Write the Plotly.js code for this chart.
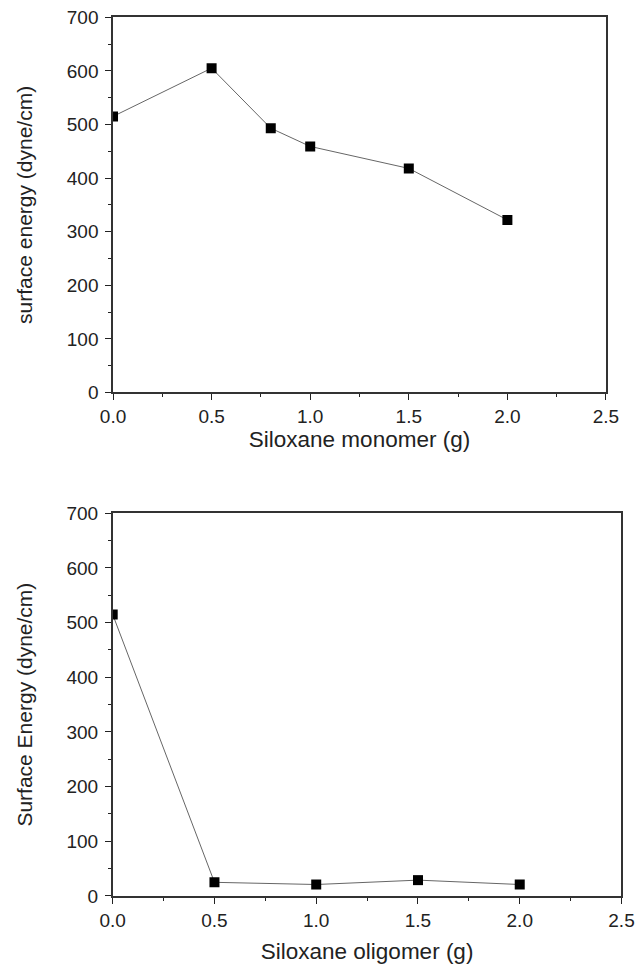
<!DOCTYPE html>
<html>
<head>
<meta charset="utf-8">
<script src="https://cdn.plot.ly/plotly-3.0.1.min.js"></script>
<style>html,body{margin:0;padding:0;background:#fff}#chart{width:636px;height:970px}</style>
</head>
<body>
<div id="chart"></div>
<script>
// Top panel: siloxane monomer
const monomerX = [0.0, 0.5, 0.8, 1.0, 1.5, 2.0];
const monomerY = [515, 605, 493, 459, 418, 322];
// Bottom panel: siloxane oligomer
const oligomerX = [0.0, 0.5, 1.0, 1.5, 2.0];
const oligomerY = [515, 25, 21, 29, 21];

const xTickVals = [0, 0.5, 1.0, 1.5, 2.0, 2.5];
const xTickText = ['0.0', '0.5', '1.0', '1.5', '2.0', '2.5'];
const yTickVals = [0, 100, 200, 300, 400, 500, 600, 700];

const topXTitle = 'Siloxane monomer (g)';
const topYTitle = 'surface energy (dyne/cm)';
const botXTitle = 'Siloxane oligomer (g)';
const botYTitle = 'Surface Energy (dyne/cm)';

const FONT = 'Liberation Sans, Arial, Helvetica, sans-serif';
const tickFont = {family: FONT, size: 19, color: '#222'};
const xTitleFont = {family: FONT, size: 22.5, color: '#222'};
const yTitleFont = {family: FONT, size: 21, color: '#222'};

function trace(x, y, xa, ya) {
  return {
    x: x, y: y, xaxis: xa, yaxis: ya,
    type: 'scatter', mode: 'lines+markers',
    line: {color: '#666', width: 1},
    marker: {symbol: 'square', size: 10, color: '#000'},
    cliponaxis: true,
    hoverinfo: 'x+y'
  };
}

function xaxis(domain, anchor, title, standoff) {
  return {
    domain: domain, anchor: anchor,
    range: [0, 2.5],
    tickmode: 'array', tickvals: xTickVals, ticktext: xTickText,
    ticks: 'outside', ticklen: 6, tickwidth: 1.3, tickcolor: '#222',
    minor: {dtick: 0.25, ticks: 'outside', ticklen: 3, tickwidth: 1.3, tickcolor: '#222', showgrid: false},
    showline: true, linecolor: '#333', linewidth: 1.5, mirror: true,
    showgrid: false, zeroline: false,
    tickfont: tickFont,
    title: {text: title, font: xTitleFont, standoff: standoff},
    fixedrange: true
  };
}

function yaxis(domain, anchor, title) {
  return {
    domain: domain, anchor: anchor,
    range: [0, 700],
    tickmode: 'array', tickvals: yTickVals,
    ticks: 'outside', ticklen: 6, tickwidth: 1.3, tickcolor: '#222',
    minor: {dtick: 50, ticks: 'outside', ticklen: 3, tickwidth: 1.3, tickcolor: '#222', showgrid: false},
    showline: true, linecolor: '#333', linewidth: 1.5, mirror: true,
    showgrid: false, zeroline: false,
    tickfont: tickFont,
    ticklabelstandoff: 3,
    title: {text: title, font: yTitleFont, standoff: 28},
    fixedrange: true
  };
}

const data = [
  trace(monomerX, monomerY, 'x', 'y'),
  trace(oligomerX, oligomerY, 'x2', 'y2')
];

const layout = {
  width: 636, height: 970,
  margin: {l: 0, r: 0, t: 0, b: 0},
  paper_bgcolor: '#fff', plot_bgcolor: '#fff',
  showlegend: false,
  xaxis: xaxis([0.1777, 0.9528], 'y', topXTitle, 5),
  yaxis: yaxis([0.5954, 0.9822], 'x', topYTitle),
  xaxis2: xaxis([0.1772, 0.9772], 'y2', botXTitle, 14),
  yaxis2: yaxis([0.0763, 0.4708], 'x2', botYTitle)
};

Plotly.newPlot('chart', data, layout, {displayModeBar: false});
</script>
</body>
</html>
